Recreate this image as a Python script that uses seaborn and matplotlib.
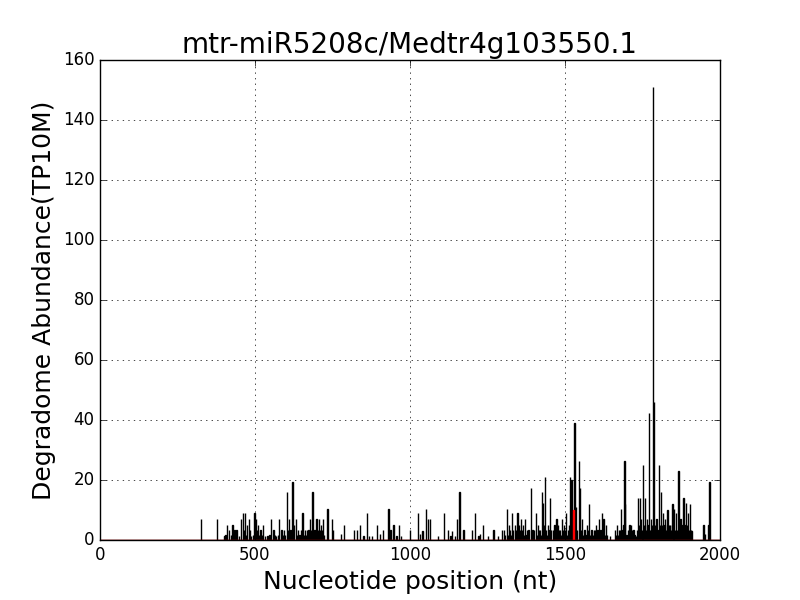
import numpy as np
import pandas as pd
import matplotlib
matplotlib.use("Agg")
import matplotlib.pyplot as plt
import seaborn as sns

# -----------------------------
# Data
# -----------------------------
positions = [
    326, 378,
    401, 410, 416, 427, 433, 440, 447, 454, 460, 468, 474, 480, 487, 498,
    503, 510, 517, 525, 532, 540, 552, 559, 568, 578, 585, 592,
    602, 610, 620, 626, 631, 638, 653, 660, 667, 677, 685, 691, 698,
    706, 712, 718, 733, 748, 752, 778, 787,
    819, 828, 839, 849, 860, 868, 878, 894,
    902, 913, 930, 937, 946, 956, 964, 971,
    1000, 1026, 1032, 1040, 1052, 1058, 1064, 1090,
    1109, 1123, 1130, 1136, 1145, 1152, 1159, 1172,
    1200, 1210, 1220, 1226, 1236, 1250, 1269, 1283, 1296,
    1303, 1312, 1318, 1322, 1328, 1338, 1346, 1352, 1358, 1364, 1371, 1378, 1389, 1395,
    1406, 1412, 1418, 1425, 1428, 1436, 1445, 1452, 1460, 1466, 1472, 1478, 1484, 1490, 1497,
    1503, 1510, 1516, 1520, 1530, 1535, 1544, 1548, 1555, 1562, 1570, 1577, 1585, 1592,
    1600, 1610, 1618, 1624, 1632, 1645, 1661, 1668, 1674, 1680, 1691, 1694,
    1702, 1708, 1713, 1720, 1728, 1736, 1741, 1750, 1758, 1763, 1771, 1777, 1783, 1787, 1795,
    1803, 1809, 1815, 1823, 1830, 1838, 1846, 1852, 1858, 1866, 1872, 1882, 1890, 1896,
    1903, 1908, 1946, 1952, 1962, 1966,
]
abundance = [
    7, 7,
    1.5, 5, 3.5, 5, 3.5, 3.5, 1.5, 7, 9, 9, 5, 7, 1.5, 9,
    7, 5, 3.5, 5, 1.5, 1.5, 7, 3.5, 1.5, 7, 3.5, 3.5,
    16, 7, 19.5, 5, 7, 3.5, 9, 3.5, 3.5, 7, 16, 3.5, 7,
    7, 5, 7, 10.5, 7, 3.5, 2, 5,
    3.5, 3.5, 5, 1.5, 9, 1.5, 1.5, 5,
    2, 3.5, 10.5, 3.5, 5, 1.5, 5, 1.5,
    3.5, 9, 2, 3, 10.5, 7, 7, 1.5,
    9, 3.5, 1.5, 3, 1.5, 7, 16, 3.5,
    3.5, 9, 1.5, 2, 5, 1.5, 3.5, 1.5, 3.5,
    3.5, 10.5, 5, 3.5, 9, 5, 9, 5, 7, 5, 7, 3.5, 17.5, 3.5,
    9, 5, 3.5, 16, 12.5, 21, 5, 14, 3.5, 5, 7, 5, 3.5, 7, 5,
    9, 3.5, 21, 20, 39, 11, 26.5, 17.5, 7, 3.5, 5, 12, 3.5, 3.5,
    5, 7, 9, 7, 5, 1.5, 3.5, 5, 3.5, 10.5, 26.5, 12,
    3.5, 5, 5, 3.5, 1.5, 14, 14, 25, 14, 7, 42.5, 7, 151, 46, 7,
    25, 16, 9, 7, 10, 5, 12, 10.5, 9, 23, 7, 14, 12.5, 9,
    12, 3, 5, 2, 5, 19.5,
]

# low-level reads filling the baseline
low_positions = [
    404, 421, 437, 463, 471, 484, 492, 506, 513, 521, 546, 563, 574, 589, 597,
    606, 614, 623, 635, 643, 648, 657, 663, 672, 681, 694, 702, 709, 715, 722,
    1306, 1315, 1325, 1332, 1342, 1349, 1355, 1361, 1368, 1375, 1382, 1392,
    1400, 1409, 1415, 1421, 1432, 1439, 1442, 1449, 1455, 1463, 1469, 1475,
    1481, 1487, 1493, 1500, 1506, 1513, 1523, 1532, 1539, 1551, 1558, 1566,
    1573, 1581, 1589, 1596, 1604, 1614, 1621, 1628, 1636,
    1665, 1671, 1677, 1685, 1688, 1698, 1705, 1716, 1724, 1732, 1739, 1745,
    1748, 1754, 1761, 1766, 1769, 1774, 1780, 1790, 1793, 1798, 1806, 1812,
    1818, 1820, 1826, 1834, 1841, 1844, 1849, 1855, 1861, 1869, 1875, 1879,
    1885, 1888, 1893, 1899, 1905,
]
low_abundance = [
    1.7, 1.7, 1.7, 3.5, 1.7, 3.5, 1.7, 3.5, 1.7, 1.7, 1.7, 1.7, 1.7, 1.7, 1.7,
    3.5, 3.5, 3.5, 1.7, 1.7, 3.5, 1.7, 1.7, 3.5, 3.5, 3.5, 3.5, 3.5, 3.5, 1.7,
    1.7, 1.7, 1.7, 3.5, 3.5, 1.7, 3.5, 3.5, 1.7, 1.7, 3.5, 1.7,
    3.5, 1.7, 3.5, 1.7, 5, 3.5, 1.7, 3.5, 3.5, 1.7, 3.5, 1.7,
    3.5, 1.7, 3.5, 3.5, 1.7, 5, 3.5, 5, 3.5, 3.5, 1.7, 1.7,
    3.5, 1.7, 1.7, 3.5, 3.5, 3.5, 3.5, 1.7, 1.7,
    1.7, 1.7, 3.5, 3.5, 5, 1.7, 1.7, 3.5, 1.7, 3.5, 5, 7,
    3.5, 5, 3.5, 5, 3.5, 3.5, 5, 5, 3.5, 3.5, 5, 5,
    3.5, 5, 3.5, 5, 3.5, 5, 5, 3.5, 3.5, 5, 3.5, 5,
    5, 3.5, 5, 3.5, 3.5,
]

# miRNA cleavage site (red bar)
site_position = [1527]
site_abundance = [10]

df = pd.DataFrame({"pos": positions + low_positions,
                   "val": abundance + low_abundance})
site = pd.DataFrame({"pos": site_position, "val": site_abundance})

# -----------------------------
# Plot
# -----------------------------
plt.style.use("classic")
fig, ax = plt.subplots(figsize=(8, 6), dpi=100)
fig.subplots_adjust(left=0.125, right=0.9, bottom=0.1, top=0.9)

sns.histplot(data=df, x="pos", weights="val", binwidth=1, binrange=(0, 2001),
             color="black", edgecolor="black", linewidth=1.0,
             alpha=1, ax=ax)
sns.histplot(data=site, x="pos", weights="val", binwidth=1, binrange=(0, 2001),
             color="red", edgecolor="red", linewidth=1.0,
             alpha=1, ax=ax)

ax.set_xlim(0, 2000)
ax.set_ylim(0, 160)
ax.set_xticks([0, 500, 1000, 1500, 2000])
ax.set_yticks(np.arange(0, 161, 20))
ax.grid(True, color="black", linestyle=":", linewidth=0.5)
ax.set_axisbelow(False)

ax.set_title("mtr-miR5208c/Medtr4g103550.1", fontsize=20)
ax.set_xlabel("Nucleotide position (nt)", fontsize=18)
ax.set_ylabel("Degradome Abundance(TP10M)", fontsize=18)
ax.tick_params(labelsize=12)

plt.savefig("out.png", dpi=100)
plt.close()
